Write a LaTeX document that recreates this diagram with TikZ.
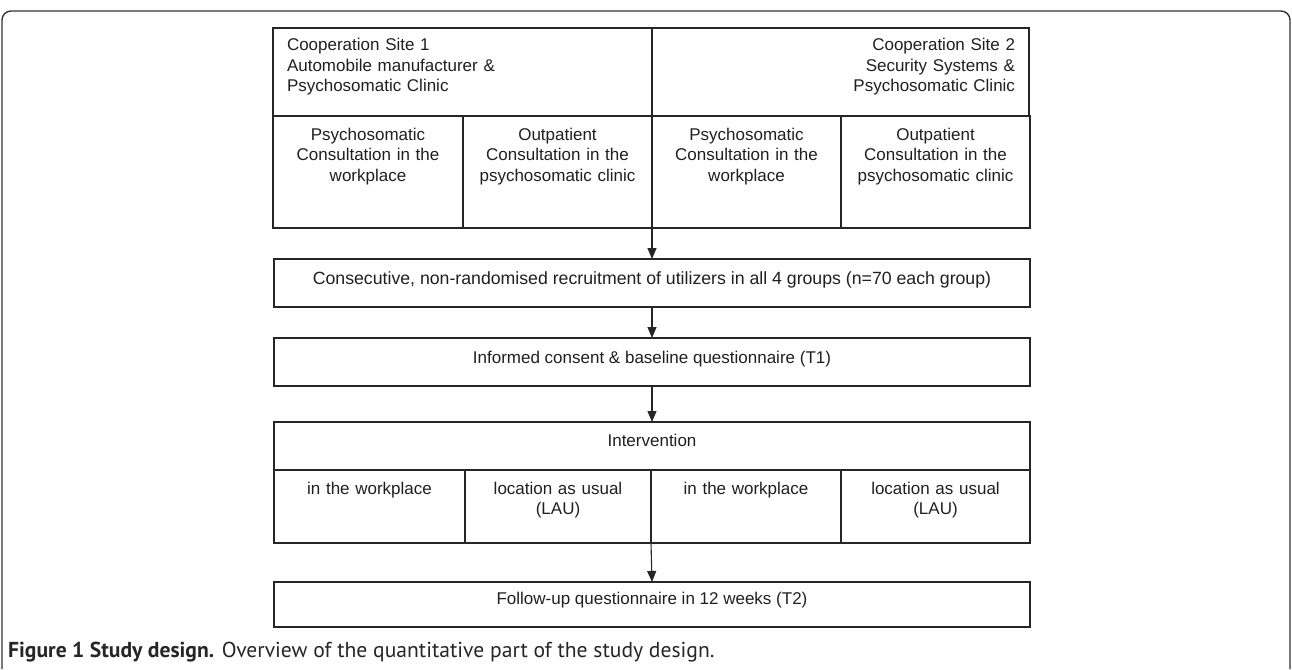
\documentclass[tikz,border=0pt]{standalone}
\usepackage{fontspec}
\setmainfont{Liberation Sans}
\newfontfamily\capfont{PT Sans}
\usetikzlibrary{arrows.meta}
\tikzset{
  cell/.style={draw=black!85, line width=1.1pt, inner sep=0pt, outer sep=0pt, anchor=north west},
  txt/.style={inner sep=0pt, outer sep=0pt, text=black!88, font=\fontsize{17}{20.5}\selectfont},
  arr/.style={draw=black!85, line width=1.1pt, -{Triangle[length=11pt,width=9pt]}},
  frame/.style={draw=black!80, line width=1.4pt, rounded corners=9pt}
}
\begin{document}
\begin{tikzpicture}[x=1pt,y=-1pt]
\useasboundingbox (0,0) rectangle (1292,669);
\draw[frame] (2,669) -- (2,11) -- (1290,11) -- (1290,669);
% top table
\node[cell, minimum width=379pt, minimum height=88pt] (s1) at (273,28) {};
\node[cell, minimum width=377pt, minimum height=88pt] (s2) at (652,28) {};
\node[cell, minimum width=190pt, minimum height=112pt] (c1) at (273,116) {};
\node[cell, minimum width=189pt, minimum height=112pt] (c2) at (463,116) {};
\node[cell, minimum width=189pt, minimum height=112pt] (c3) at (652,116) {};
\node[cell, minimum width=189pt, minimum height=112pt] (c4) at (841,116) {};
\node[txt, anchor=base west, text width=330pt, align=left] (t1) at (287,51) {Cooperation Site 1\\Automobile manufacturer \&\\Psychosomatic Clinic};
\node[txt, anchor=base east, text width=330pt, align=right] (t2) at (1015,51) {Cooperation Site 2\\Security Systems \&\\Psychosomatic Clinic};
\node[txt, anchor=base, text width=186pt, align=center] (tc1) at (368,140) {Psychosomatic\\Consultation in the\\workplace};
\node[txt, anchor=base, text width=186pt, align=center] (tc2) at (557.5,140) {Outpatient\\Consultation in the\\psychosomatic clinic};
\node[txt, anchor=base, text width=186pt, align=center] (tc3) at (746.5,140) {Psychosomatic\\Consultation in the\\workplace};
\node[txt, anchor=base, text width=186pt, align=center] (tc4) at (935.5,140) {Outpatient\\Consultation in the\\psychosomatic clinic};
% recruitment
\node[cell, minimum width=756pt, minimum height=48pt] (rec) at (274,259) {};
\node[txt, anchor=base, font=\fontsize{17.7}{20.5}\selectfont] (trec) at (652,284) {Consecutive, non-randomised recruitment of utilizers in all 4 groups (n=70 each group)};
% consent
\node[cell, minimum width=756pt, minimum height=48pt] (cons) at (274,338) {};
\node[txt, anchor=base] (tcons) at (652,363) {Informed consent \& baseline questionnaire (T1)};
% intervention
\node[cell, minimum width=756pt, minimum height=48pt] (int) at (274,422) {};
\node[txt, anchor=base] (tint) at (652,446) {Intervention};
\node[cell, minimum width=191pt, minimum height=73pt] (l1) at (274,470) {};
\node[cell, minimum width=186pt, minimum height=73pt] (l2) at (465,470) {};
\node[cell, minimum width=190pt, minimum height=73pt] (l3) at (651,470) {};
\node[cell, minimum width=189pt, minimum height=73pt] (l4) at (841,470) {};
\node[txt, anchor=base, text width=186pt, align=center] (tl1) at (369.5,494) {in the workplace};
\node[txt, anchor=base, text width=182pt, align=center] (tl2) at (558,494) {location as usual\\(LAU)};
\node[txt, anchor=base, text width=186pt, align=center] (tl3) at (746,494) {in the workplace};
\node[txt, anchor=base, text width=186pt, align=center] (tl4) at (935.5,494) {location as usual\\(LAU)};
% follow-up
\node[cell, minimum width=756pt, minimum height=45pt] (fu) at (274,582) {};
\node[txt, anchor=base] (tfu) at (652,604) {Follow-up questionnaire in 12 weeks (T2)};
% arrows
\draw[arr] (c2.south east) -- (rec.north);
\draw[arr] (rec.south) -- (cons.north);
\draw[arr] (cons.south) -- (int.north);
\draw[arr] (l2.south east) -- (fu.north);
% caption
\node[inner sep=0pt, anchor=base west, font=\capfont\fontsize{21.6}{25}\selectfont, text=black!85] (cap) at (8,657) {\textbf{Figure 1 Study design.} Overview of the quantitative part of the study design.};
\end{tikzpicture}
\end{document}
